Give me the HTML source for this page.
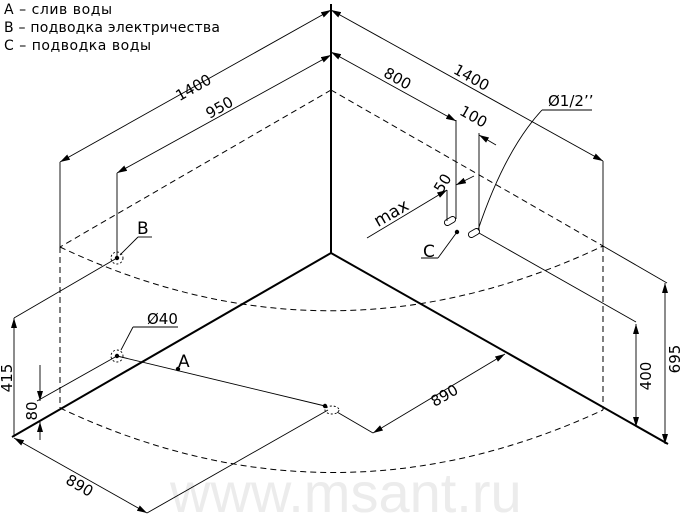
<!DOCTYPE html>
<html><head><meta charset="utf-8"><style>
html,body{margin:0;padding:0;background:#fff;}
svg{display:block;}
text{font-family:"DejaVu Sans","Liberation Sans",sans-serif;fill:#000;}
</style></head><body>
<svg width="680" height="514" viewBox="0 0 680 514" xmlns="http://www.w3.org/2000/svg">
<defs>
<marker id="a" viewBox="0 0 10 6" refX="10" refY="3" markerWidth="10" markerHeight="6" orient="auto-start-reverse" markerUnits="userSpaceOnUse">
<path d="M0,0 L10,3 L0,6 Z" fill="#000"/></marker>
</defs>
<text x="170" y="512" font-size="56" fill="#ececec" style="fill:#ececec;font-family:'Liberation Sans',sans-serif">www.msant.ru</text>

<text x="4" y="14" font-size="14" textLength="108">A – слив воды</text>
<text x="4" y="32" font-size="14" textLength="216">B – подводка электричества</text>
<text x="4" y="50" font-size="14" textLength="147">C – подводка воды</text>

<g fill="none" stroke="#000">
<line x1="331" y1="4" x2="331" y2="253" stroke-width="2"/>
<line x1="331" y1="253" x2="12" y2="437" stroke-width="2"/>
<line x1="331" y1="253" x2="668" y2="444" stroke-width="2"/>

<g stroke-dasharray="6,4" stroke-width="1">
<line x1="331" y1="90" x2="60" y2="247"/>
<line x1="331" y1="90" x2="603" y2="246"/>
<line x1="60" y1="247" x2="60" y2="408"/>
<line x1="603" y1="246" x2="603" y2="410"/>
<path d="M60,247 Q331,375 603,246"/>
<path d="M60,408 Q331,536 603,410"/>
</g>

<g stroke-width="0.9">
<line x1="331" y1="10" x2="60" y2="162" marker-start="url(#a)" marker-end="url(#a)"/>
<line x1="60" y1="162" x2="60" y2="247"/>
<line x1="331" y1="55" x2="117" y2="173" marker-start="url(#a)" marker-end="url(#a)"/>
<line x1="117" y1="173" x2="117" y2="259"/>
<line x1="331" y1="10" x2="603" y2="161" marker-start="url(#a)" marker-end="url(#a)"/>
<line x1="603" y1="161" x2="603" y2="246"/>
<line x1="331" y1="52" x2="456" y2="121" marker-start="url(#a)" marker-end="url(#a)"/>
<line x1="456" y1="120" x2="456" y2="219"/>
<line x1="496" y1="145" x2="479" y2="135" marker-end="url(#a)"/>
<line x1="479" y1="133" x2="479" y2="231"/>
<line x1="367" y1="238" x2="447" y2="190" marker-end="url(#a)"/>
<line x1="474" y1="176" x2="456" y2="185" marker-end="url(#a)"/>
<line x1="447" y1="190" x2="447" y2="221"/>
<rect x="444" y="218" width="12" height="6" rx="3" transform="rotate(-30 450 221)"/>
<rect x="468" y="230" width="12" height="6" rx="3" transform="rotate(-30 474 233)"/>
<line x1="457" y1="232" x2="438" y2="258"/>
<line x1="438" y1="258" x2="421" y2="258"/>
<path d="M478,230 Q505,150 542,110"/>
<line x1="542" y1="110" x2="592" y2="110"/>
<line x1="479" y1="233" x2="636" y2="322"/>
<line x1="603" y1="246" x2="667" y2="283"/>
<line x1="636" y1="324" x2="636" y2="427" marker-start="url(#a)" marker-end="url(#a)"/>
<line x1="665" y1="283" x2="665" y2="444" marker-start="url(#a)" marker-end="url(#a)"/>
<circle cx="117" cy="258" r="6" stroke-dasharray="2,2"/>
<line x1="120" y1="255" x2="138" y2="237"/>
<line x1="138" y1="237" x2="152" y2="237"/>
<line x1="117" y1="258" x2="14" y2="318"/>
<line x1="14" y1="318" x2="14" y2="437" marker-start="url(#a)"/>
<circle cx="117" cy="356" r="6" stroke-dasharray="2,2"/>
<line x1="121" y1="350" x2="133" y2="327"/>
<line x1="133" y1="327" x2="178" y2="327"/>
<line x1="117" y1="356" x2="325" y2="406"/>
<line x1="117" y1="356" x2="37" y2="401"/>
<line x1="40" y1="365" x2="40" y2="401" marker-end="url(#a)"/>
<line x1="40" y1="440" x2="40" y2="422" marker-end="url(#a)"/>
<ellipse cx="332" cy="410" rx="7" ry="4" stroke-dasharray="2,2"/>
<line x1="14" y1="438" x2="147" y2="513" marker-start="url(#a)" marker-end="url(#a)"/>
<line x1="147" y1="513" x2="328" y2="410"/>
<line x1="337" y1="412" x2="373" y2="433"/>
<line x1="373" y1="433" x2="505" y2="354" marker-start="url(#a)" marker-end="url(#a)"/>
</g>
</g>
<g fill="#000">
<circle cx="117" cy="258" r="2.2"/>
<circle cx="117" cy="356" r="2.2"/>
<circle cx="178" cy="369" r="2.2"/>
<circle cx="325" cy="406" r="2.2"/>
<circle cx="457" cy="232" r="2.2"/>
</g>

<g font-size="15">
<text transform="translate(196,92) rotate(-29.4)" text-anchor="middle">1400</text>
<text transform="translate(222,112) rotate(-29.4)" text-anchor="middle">950</text>
<text transform="translate(469,82) rotate(29.4)" text-anchor="middle">1400</text>
<text transform="translate(395,83) rotate(29.4)" text-anchor="middle">800</text>
<text transform="translate(471,121) rotate(29.4)" text-anchor="middle">100</text>
<text transform="translate(447,186) rotate(-58)" text-anchor="middle">50</text>
<text transform="translate(394,218) rotate(-30)" text-anchor="middle" font-size="17">max</text>
<text x="548" y="106">Ø1/2’’</text>
<text x="423" y="257" font-size="17">C</text>
<text x="137" y="234" font-size="17">B</text>
<text x="147" y="324">Ø40</text>
<text x="178" y="367" font-size="17">A</text>
<text transform="translate(12,378) rotate(-90)" text-anchor="middle">415</text>
<text transform="translate(37,411) rotate(-90)" text-anchor="middle">80</text>
<text transform="translate(77,490) rotate(30)" text-anchor="middle">890</text>
<text transform="translate(447,400) rotate(-30)" text-anchor="middle">890</text>
<text transform="translate(651,376) rotate(-90)" text-anchor="middle">400</text>
<text transform="translate(680,359) rotate(-90)" text-anchor="middle">695</text>
</g>
</svg>
</body></html>
